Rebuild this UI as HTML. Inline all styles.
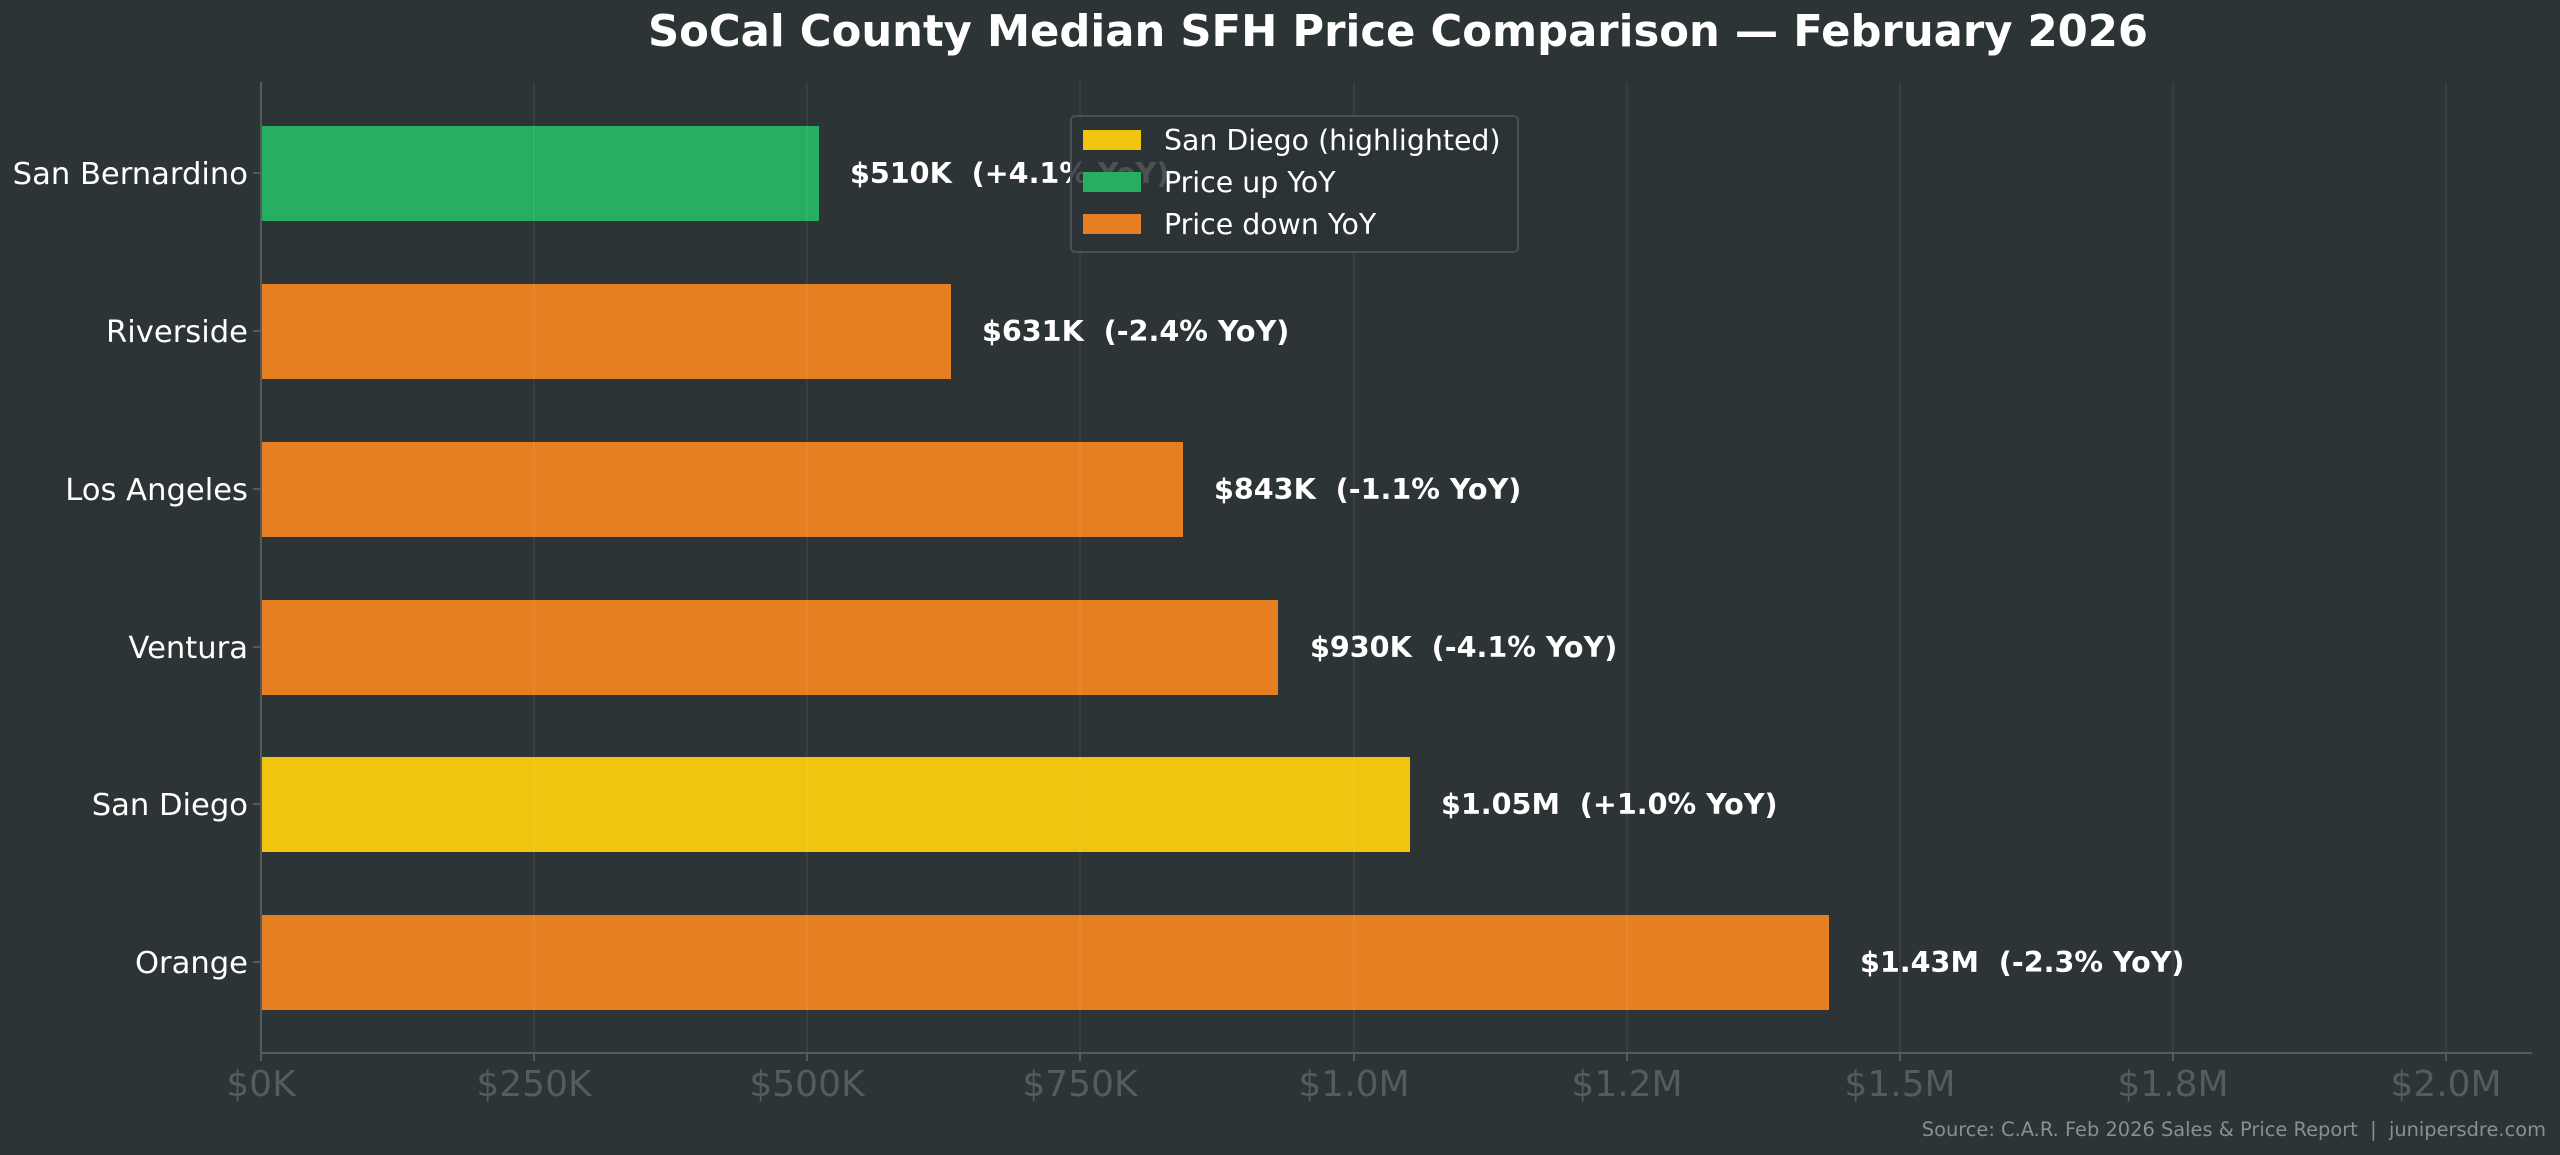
<!DOCTYPE html>
<html><head><meta charset="utf-8"><style>
html,body{margin:0;padding:0;background:#2d3436;}
svg{display:block;font-family:"DejaVu Sans","Liberation Sans",sans-serif;}
text{white-space:pre;}
</style></head><body>
<svg width="2560" height="1155" viewBox="0 0 2560 1155" xmlns="http://www.w3.org/2000/svg" xml:space="preserve">
<rect width="2560" height="1155" fill="#2d3436"/>
<text x="1398" y="46" text-anchor="middle" font-size="43.3" font-weight="bold" fill="#ffffff">SoCal County Median SFH Price Comparison — February 2026</text>
<g>
<rect x="261" y="126" width="558" height="95" fill="#27ae60"/>
<rect x="261" y="284" width="690" height="95" fill="#e67e22"/>
<rect x="261" y="442" width="922" height="95" fill="#e67e22"/>
<rect x="261" y="600" width="1017" height="95" fill="#e67e22"/>
<rect x="261" y="757" width="1149" height="95" fill="#f1c40f"/>
<rect x="261" y="915" width="1568" height="95" fill="#e67e22"/>
</g>
<g stroke="#ffffff" stroke-opacity="0.06" stroke-width="2">
<line x1="534" y1="82" x2="534" y2="1053"/><line x1="807" y1="82" x2="807" y2="1053"/>
<line x1="1080" y1="82" x2="1080" y2="1053"/><line x1="1354" y1="82" x2="1354" y2="1053"/>
<line x1="1627" y1="82" x2="1627" y2="1053"/><line x1="1900" y1="82" x2="1900" y2="1053"/>
<line x1="2173" y1="82" x2="2173" y2="1053"/><line x1="2446" y1="82" x2="2446" y2="1053"/>
</g>
<line x1="261" y1="82" x2="261" y2="1054" stroke="#555a5c" stroke-width="2"/>
<line x1="261" y1="1053" x2="2532" y2="1053" stroke="#555a5c" stroke-width="2"/>
<g stroke="#555a5c" stroke-width="2">
<line x1="261" y1="1053" x2="261" y2="1061"/><line x1="534" y1="1053" x2="534" y2="1061"/>
<line x1="807" y1="1053" x2="807" y2="1061"/><line x1="1080" y1="1053" x2="1080" y2="1061"/>
<line x1="1354" y1="1053" x2="1354" y2="1061"/><line x1="1627" y1="1053" x2="1627" y2="1061"/>
<line x1="1900" y1="1053" x2="1900" y2="1061"/><line x1="2173" y1="1053" x2="2173" y2="1061"/>
<line x1="2446" y1="1053" x2="2446" y2="1061"/>
<line x1="253" y1="173" x2="261" y2="173"/><line x1="253" y1="331" x2="261" y2="331"/>
<line x1="253" y1="489" x2="261" y2="489"/><line x1="253" y1="647" x2="261" y2="647"/>
<line x1="253" y1="804" x2="261" y2="804"/><line x1="253" y1="962" x2="261" y2="962"/>
</g>
<g font-size="36" fill="#555b5e" text-anchor="middle">
<text x="261" y="1096">$0K</text><text x="534" y="1096">$250K</text><text x="807" y="1096">$500K</text>
<text x="1080" y="1096">$750K</text><text x="1354" y="1096">$1.0M</text><text x="1627" y="1096">$1.2M</text>
<text x="1900" y="1096">$1.5M</text><text x="2173" y="1096">$1.8M</text><text x="2446" y="1096">$2.0M</text>
</g>
<g font-size="30.6" fill="#ffffff" text-anchor="end">
<text x="248" y="184">San Bernardino</text><text x="248" y="342">Riverside</text>
<text x="248" y="500">Los Angeles</text><text x="248" y="658">Ventura</text>
<text x="248" y="815">San Diego</text><text x="248" y="973">Orange</text>
</g>
<g font-size="28.6" font-weight="bold" fill="#ffffff">
<text x="850" y="183">$510K  (+4.1% YoY)</text>
<text x="982" y="341">$631K  (-2.4% YoY)</text>
<text x="1214" y="499">$843K  (-1.1% YoY)</text>
<text x="1310" y="657">$930K  (-4.1% YoY)</text>
<text x="1441" y="814">$1.05M  (+1.0% YoY)</text>
<text x="1860" y="972">$1.43M  (-2.3% YoY)</text>
</g>
<rect x="1071" y="116" width="447" height="136" rx="4" fill="#2d3436" fill-opacity="0.85" stroke="#4a4f51" stroke-width="2"/>
<rect x="1083" y="130" width="58" height="20" fill="#f1c40f"/>
<rect x="1083" y="172" width="58" height="20" fill="#27ae60"/>
<rect x="1083" y="214" width="58" height="20" fill="#e67e22"/>
<g font-size="28.4" fill="#ffffff">
<text x="1164" y="150">San Diego (highlighted)</text>
<text x="1164" y="192">Price up YoY</text>
<text x="1164" y="234">Price down YoY</text>
</g>
<text x="2546" y="1136" text-anchor="end" font-size="19.4" fill="#8a8f91">Source: C.A.R. Feb 2026 Sales &amp; Price Report  |  junipersdre.com</text>
</svg>
</body></html>
